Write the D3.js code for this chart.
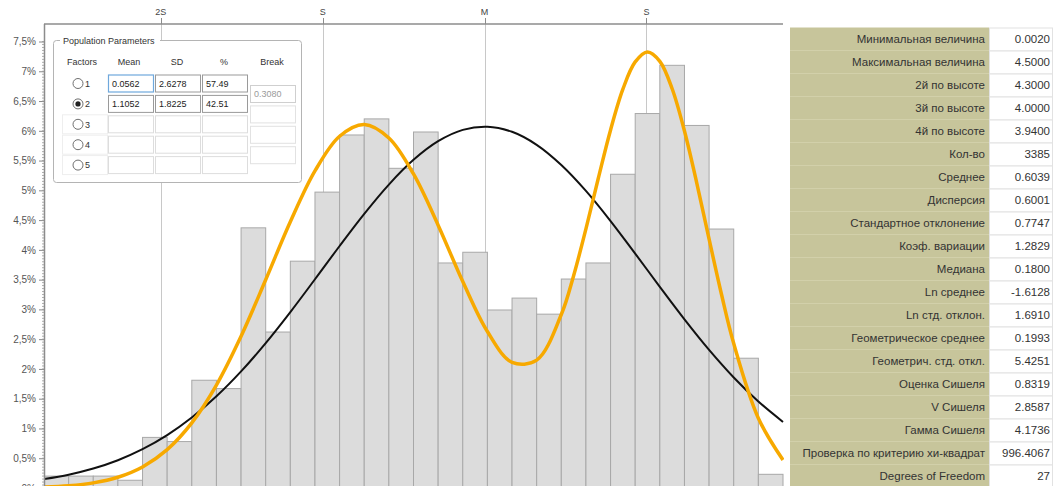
<!DOCTYPE html>
<html>
<head>
<meta charset="utf-8">
<script src="https://cdn.jsdelivr.net/npm/d3@7/dist/d3.min.js"></script>
<style>
  html, body { margin: 0; padding: 0; background: #fff; }
  svg { display: block; font-family: "Liberation Sans", Arial, sans-serif; }
</style>
</head>
<body>
<svg id="chart" width="1055" height="486"></svg>
<script>
// ---- Summary statistics (right-hand table) ----
const statLabels = [
  "Минимальная величина", "Максимальная величина", "2й по высоте", "3й по высоте",
  "4й по высоте", "Кол-во", "Среднее", "Дисперсия", "Стандартное отклонение",
  "Коэф. вариации", "Медиана", "Ln среднее", "Ln стд. отклон.",
  "Геометрическое среднее", "Геометрич. стд. откл.", "Оценка Сишеля",
  "V Сишеля", "Гамма Сишеля", "Проверка по критерию хи-квадрат", "Degrees of Freedom"
];
const statValues = [
  "0.0020", "4.5000", "4.3000", "4.0000", "3.9400", "3385", "0.6039", "0.6001",
  "0.7747", "1.2829", "0.1800", "-1.6128", "1.6910", "0.1993", "5.4251",
  "0.8319", "2.8587", "4.1736", "996.4067", "27"
];

// ---- Histogram: share of samples (%) per log-width bin, 30 bins ----
const binPercent = [
  0.20, 0.20, 0.20, 0.13, 0.85, 0.78, 1.81, 1.67, 4.37, 2.62,
  3.81, 4.97, 5.93, 6.20, 5.37, 5.98, 3.78, 3.96, 2.99, 3.19,
  2.92, 3.51, 3.78, 5.27, 6.29, 7.10, 6.09, 4.35, 2.18, 0.23
];

// ---- Fitted lognormal curve (%), at bin edges 0..30 ----
const normalCurve = [
  0.150, 0.224, 0.327, 0.467, 0.652, 0.888, 1.183, 1.540, 1.958, 2.434,
  2.955, 3.506, 4.065, 4.605, 5.097, 5.512, 5.825, 6.015, 6.069, 5.983,
  5.764, 5.425, 4.990, 4.484, 3.938, 3.379, 2.833, 2.320, 1.857, 1.453, 1.110
];

// ---- Two-population mixture curve (%), [bin position, value] ----
const mixtureCurve = [
  [0, 0.016], [1, 0.038], [2, 0.086], [3, 0.181], [4, 0.354], [5, 0.644],
  [6, 1.094], [7, 1.730], [8, 2.549], [9, 3.498], [10, 4.472], [11, 5.326],
  [12, 5.909], [13, 6.107], [14, 5.880], [15, 5.275], [16, 4.415], [17, 3.468],
  [18, 2.628], [19, 2.111], [20, 2.148], [21, 2.914], [21.5, 3.567], [22, 4.353],
  [22.5, 5.199], [23, 6.015], [23.5, 6.699], [24, 7.157], [24.5, 7.324],
  [25, 7.167], [25.5, 6.706], [26, 5.996], [26.5, 5.122], [27, 4.180],
  [27.5, 3.259], [28, 2.426], [29, 1.172], [30, 0.471]
];

// ---- Axis ticks ----
const yTicks = [0, 0.5, 1, 1.5, 2, 2.5, 3, 3.5, 4, 4.5, 5, 5.5, 6, 6.5, 7, 7.5];
const sdMarkLabels = ["2S", "S", "M", "S"];
const sdMarkOffsets = [-2, -1, 0, 1];

// ---- Population parameters panel ----
const factorIds = ["1", "2", "3", "4", "5"];
const factorMean = ["0.0562", "1.1052", "", "", ""];
const factorSD = ["2.6278", "1.8225", "", "", ""];
const factorPct = ["57.49", "42.51", "", "", ""];
const factorBreak = ["0.3080", "", "", ""];
const selectedFactor = 1;

const nBins = binPercent.length;
const lnMin = Math.log(+statValues[0]);
const lnMax = Math.log(+statValues[1]);
const lnMean = +statValues[11];
const lnSD = +statValues[12];
const binWidth = (lnMax - lnMin) / nBins;
const binToLn = k => lnMin + k * binWidth;

const svg = d3.select("#chart");
const plot = { left: 44, right: 783, top: 24, bottom: 486 };

const x = d3.scaleLinear().domain([lnMin, lnMax]).range([plot.left, plot.right]);
const y = d3.scaleLinear().domain([0, 7.5]).range([488, 41.5]);

svg.append("rect").attr("width", 1055).attr("height", 486).attr("fill", "#fff");

// clip for plot contents
svg.append("defs").append("clipPath").attr("id", "plotClip")
  .append("rect").attr("x", plot.left).attr("y", plot.top)
  .attr("width", plot.right - plot.left + 1).attr("height", plot.bottom - plot.top);

const g = svg.append("g").attr("clip-path", "url(#plotClip)");

// reference lines at mean and +-SD
const sdMarks = sdMarkOffsets.map((o, i) => ({ label: sdMarkLabels[i], v: lnMean + o * lnSD }));
g.selectAll("line.ref").data(sdMarks).join("line")
  .attr("class", "ref")
  .attr("x1", d => Math.round(x(d.v)) + 0.5).attr("x2", d => Math.round(x(d.v)) + 0.5)
  .attr("y1", plot.top).attr("y2", plot.bottom)
  .attr("stroke", "#c8c8c8").attr("stroke-width", 1);

// histogram bars
g.selectAll("rect.bar").data(binPercent).join("rect")
  .attr("class", "bar")
  .attr("x", (d, i) => x(binToLn(i)))
  .attr("width", (d, i) => x(binToLn(i + 1)) - x(binToLn(i)))
  .attr("y", d => y(d))
  .attr("height", d => y(0) - y(d))
  .attr("fill", "#dcdcdc")
  .attr("stroke", "#a8a8a8")
  .attr("stroke-width", 1);

// curves
const line = d3.line()
  .x(d => x(binToLn(d[0])))
  .y(d => y(d[1]))
  .curve(d3.curveCatmullRom.alpha(0.5));

g.append("path")
  .datum(normalCurve.map((v, i) => [i, v]))
  .attr("d", line)
  .attr("fill", "none").attr("stroke", "#111").attr("stroke-width", 2);

g.append("path")
  .datum(mixtureCurve)
  .attr("d", line)
  .attr("fill", "none").attr("stroke", "#f7a900").attr("stroke-width", 3.5)
  .attr("stroke-linejoin", "round");

// frame: top line and left axis
svg.append("line")
  .attr("x1", plot.left).attr("x2", plot.right)
  .attr("y1", plot.top).attr("y2", plot.top)
  .attr("stroke", "#8c8c8c").attr("stroke-width", 1.5);

// top ticks with labels
const topG = svg.append("g");
topG.selectAll("line").data(sdMarks).join("line")
  .attr("x1", d => Math.round(x(d.v)) + 0.5).attr("x2", d => Math.round(x(d.v)) + 0.5)
  .attr("y1", 18).attr("y2", plot.top)
  .attr("stroke", "#8c8c8c");
topG.selectAll("text").data(sdMarks).join("text")
  .attr("x", d => x(d.v)).attr("y", 15)
  .attr("text-anchor", "middle")
  .attr("font-size", 9).attr("fill", "#444")
  .text(d => d.label);

// left axis
const fmt = d => String(d).replace(".", ",") + "%";
const yAxis = d3.axisLeft(y).tickValues(yTicks).tickFormat(fmt).tickSize(5).tickPadding(3);
const yAxisG = svg.append("g")
  .attr("transform", `translate(${plot.left},0)`)
  .call(yAxis);
yAxisG.select(".domain").remove();
yAxisG.selectAll(".tick line").attr("stroke", "#888");
yAxisG.selectAll(".tick text")
  .attr("font-family", "'Liberation Sans', Arial, sans-serif")
  .attr("font-size", 10).attr("fill", "#555");
svg.append("line")
  .attr("x1", plot.left + 0.5).attr("x2", plot.left + 0.5)
  .attr("y1", plot.top).attr("y2", plot.bottom)
  .attr("stroke", "#8c8c8c").attr("stroke-width", 1.5);
// minor ticks
svg.append("g").selectAll("line")
  .data(d3.range(0, 151).map(i => i * 0.05).filter(v => v <= 7.6))
  .join("line")
  .attr("x1", plot.left - 2).attr("x2", plot.left)
  .attr("y1", d => y(d)).attr("y2", d => y(d))
  .attr("stroke", "#999").attr("stroke-width", 0.8);

// ---- Population parameters panel ----
const panel = svg.append("g").attr("font-size", 9).attr("fill", "#333");
panel.append("rect")
  .attr("x", 53.5).attr("y", 40.5).attr("width", 248).attr("height", 142)
  .attr("rx", 3).attr("fill", "#fff").attr("stroke", "#b4b4b4");
panel.append("rect").attr("x", 60).attr("y", 35).attr("width", 100).attr("height", 10).attr("fill", "#fff");
panel.append("text").attr("x", 63).attr("y", 44).text("Population Parameters").attr("fill", "#333");

const headers = [["Factors", 82], ["Mean", 129], ["SD", 177], ["%", 224], ["Break", 272]];
panel.selectAll("text.hdr").data(headers).join("text")
  .attr("class", "hdr")
  .attr("x", d => d[1]).attr("y", 65).attr("text-anchor", "middle")
  .attr("fill", "#333").text(d => d[0]);

const rowY = i => 83.5 + i * 20.4;
const cols = [[108, 45, factorMean], [155, 45, factorSD], [202, 45, factorPct]];

factorIds.forEach((id, i) => {
  const cy = rowY(i);
  const filled = factorMean[i] !== "";
  if (!filled) {
    panel.append("rect").attr("x", 62.5).attr("y", cy - 9.5).attr("width", 45).attr("height", 19)
      .attr("fill", "none").attr("stroke", "#eeeeee");
  }
  panel.append("circle").attr("cx", 78).attr("cy", cy).attr("r", 5)
    .attr("fill", "#fff").attr("stroke", "#6f6f6f");
  if (i === selectedFactor) {
    panel.append("circle").attr("cx", 78).attr("cy", cy).attr("r", 2.6).attr("fill", "#222");
  }
  panel.append("text").attr("x", 85).attr("y", cy + 3.3).attr("fill", "#333").text(id);
  cols.forEach(([cx, w, arr], j) => {
    const focused = i === 0 && j === 0;
    panel.append("rect")
      .attr("x", cx + 0.5).attr("y", cy - 8.5).attr("width", w).attr("height", 17)
      .attr("fill", "#fff")
      .attr("stroke", focused ? "#6fa8dc" : (filled ? "#9a9a9a" : "#dddddd"))
      .attr("stroke-width", focused ? 1.2 : 1);
    if (arr[i]) {
      panel.append("text").attr("x", cx + 4).attr("y", cy + 3.3)
        .attr("fill", "#222").text(arr[i]);
    }
  });
});
factorBreak.forEach((b, i) => {
  const cy = rowY(i) + 10.5;
  panel.append("rect")
    .attr("x", 250.5).attr("y", cy - 8.5).attr("width", 45).attr("height", 17)
    .attr("fill", "#fff").attr("stroke", i === 0 ? "#cfcfcf" : "#e2e2e2");
  if (b) {
    panel.append("text").attr("x", 254).attr("y", cy + 3.3).attr("fill", "#9a9a9a").text(b);
  }
});

// ---- Statistics table ----
const table = svg.append("g").attr("font-size", 11.5);
const tTop = 27.5, rowH = 23, labelX0 = 790, labelX1 = 989, valX1 = 1053;
table.append("rect")
  .attr("x", labelX0).attr("y", tTop).attr("width", labelX1 - labelX0)
  .attr("height", rowH * statLabels.length)
  .attr("fill", "#c7c59b");
const rows = table.selectAll("g.row").data(statLabels).join("g")
  .attr("class", "row")
  .attr("transform", (d, i) => `translate(0,${tTop + i * rowH})`);
rows.append("line")
  .attr("x1", labelX0).attr("x2", labelX1).attr("y1", rowH).attr("y2", rowH)
  .attr("stroke", "#d2d0aa").attr("stroke-width", 1);
rows.append("rect")
  .attr("x", labelX1 + 0.5).attr("y", 0.5).attr("width", valX1 - labelX1 - 1).attr("height", rowH)
  .attr("fill", "#fff").attr("stroke", "#e2e2e2");
rows.append("text")
  .attr("x", labelX1 - 4).attr("y", rowH / 2 + 4)
  .attr("text-anchor", "end").attr("fill", "#333")
  .text(d => d);
rows.append("text")
  .attr("x", valX1 - 3).attr("y", rowH / 2 + 4)
  .attr("text-anchor", "end").attr("fill", "#333")
  .text((d, i) => statValues[i]);
</script>
</body>
</html>
